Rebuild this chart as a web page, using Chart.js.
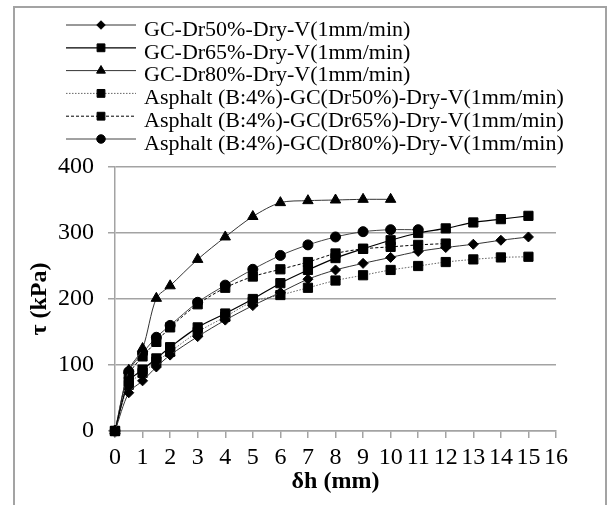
<!DOCTYPE html>
<html>
<head>
<meta charset="utf-8">
<script src="https://cdn.jsdelivr.net/npm/chart.js@4.4.0/dist/chart.umd.min.js"></script>
<style>
  html, body { margin: 0; padding: 0; background: #fff; overflow: hidden; }
  #frame { position: absolute; left: 13px; top: 6px; width: 590px; height: 520px; border: 2px solid #a3a3a3; }
  #wrap { position: absolute; left: 0; top: 0; width: 608px; height: 505px; }
</style>
</head>
<body>
<div id="frame"></div>
<div id="wrap"><canvas id="shearChart"></canvas></div>
<script>
// displacement steps (mm)
const dh = [0, 0.5, 1, 1.5, 2, 3, 4, 5, 6, 7, 8, 9, 10, 11, 12, 13, 14, 15];

const seriesNames = [
  'GC-Dr50%-Dry-V(1mm/min)',
  'GC-Dr65%-Dry-V(1mm/min)',
  'GC-Dr80%-Dry-V(1mm/min)',
  'Asphalt (B:4%)-GC(Dr50%)-Dry-V(1mm/min)',
  'Asphalt (B:4%)-GC(Dr65%)-Dry-V(1mm/min)',
  'Asphalt (B:4%)-GC(Dr80%)-Dry-V(1mm/min)'
];

// shear stress tau (kPa)
const gc50 = [0, 58, 76, 97, 115, 143, 168, 190, 210, 230, 244, 254, 263, 272, 278, 283, 289, 294];
const gc65 = [0, 75, 93, 110, 127, 157, 178, 200, 224, 244, 262, 276, 289, 300, 307, 316, 321, 326];
const gc80 = [0, 92, 125, 201, 220, 260, 294, 325, 346, 349, 350, 351, 351];
const asp50 = [0, 70, 88, 105, 120, 150, 173, 196, 206, 217, 228, 236, 244, 250, 256, 260, 263, 264];
const asp65 = [0, 85, 113, 135, 157, 192, 217, 234, 245, 256, 269, 276, 279, 282, 284];
const asp80 = [0, 90, 118, 142, 160, 195, 221, 245, 266, 282, 294, 302, 305, 305];

const yTicks = [0, 100, 200, 300, 400];
const xTicks = [0, 1, 2, 3, 4, 5, 6, 7, 8, 9, 10, 11, 12, 13, 14, 15, 16];

function toPoints(values){
    return values.map((v, i) => ({x: dh[i], y: v}));
}

function makeSet(i, values, style){
    return Object.assign({
        label: seriesNames[i],
        data: toPoints(values),
        borderColor: '#000',
        backgroundColor: '#000',
        pointBackgroundColor: '#000',
        pointBorderColor: '#000',
        pointBorderWidth: 1,
        borderWidth: 1,
        tension: 0.3,
        clip: false,
        fill: false
    }, style);
}

const datasets = [
    makeSet(0, gc50, {borderColor: '#333', pointStyle: 'rectRot', pointRadius: 5}),
    makeSet(1, gc65, {borderColor: '#000', borderWidth: 1.2, pointStyle: 'rect', pointRadius: 6.5}),
    makeSet(2, gc80, {borderColor: '#333', pointStyle: 'triangle', pointRadius: 6}),
    makeSet(3, asp50, {borderColor: '#666', borderDash: [1.5, 1.5], pointStyle: 'rect', pointRadius: 6.5}),
    makeSet(4, asp65, {borderColor: '#000', borderDash: [3, 2], pointStyle: 'rect', pointRadius: 6.5}),
    makeSet(5, asp80, {borderColor: '#444', pointStyle: 'circle', pointRadius: 5})
];

// legend drawn at top-left, line + marker + label per row
const sideLegend = {
    id: 'sideLegend',
    afterDraw(chart){
        const ctx = chart.ctx;
        chart.data.datasets.forEach((ds, i) => {
            const y = 25 + i * 22.8;
            ctx.save();
            ctx.strokeStyle = ds.borderColor;
            ctx.lineWidth = ds.borderWidth;
            ctx.setLineDash(ds.borderDash || []);
            ctx.beginPath();
            ctx.moveTo(66, y);
            ctx.lineTo(136, y);
            ctx.stroke();
            ctx.setLineDash([]);
            ctx.fillStyle = '#000';
            ctx.strokeStyle = '#000';
            ctx.lineWidth = 1;
            Chart.helpers.drawPoint(ctx, {pointStyle: ds.pointStyle, rotation: 0, radius: ds.pointRadius * 0.85, borderWidth: 1}, 101, y);
            ctx.font = '22px "Liberation Serif"';
            ctx.textBaseline = 'alphabetic';
            ctx.textAlign = 'left';
            ctx.fillText(ds.label, 144, y + 10.7);
            ctx.restore();
        });
    }
};

const ctx = document.getElementById('shearChart').getContext('2d');
new Chart(ctx, {
    type: 'line',
    data: {datasets: datasets},
    options: {
        responsive: true,
        maintainAspectRatio: false,
        animation: false,
        layout: {padding: {top: 167, right: 52, left: 0, bottom: 0}},
        plugins: {legend: {display: false}, tooltip: {enabled: false}},
        scales: {
            x: {
                type: 'linear',
                min: 0,
                max: 16,
                afterBuildTicks: (scale) => { scale.ticks = xTicks.map(v => ({value: v})); },
                afterFit: (scale) => { scale.height = 74; },
                grid: {drawOnChartArea: false, drawTicks: true, tickLength: 7, color: '#a3a3a3', lineWidth: 1.5},
                border: {color: '#a3a3a3', width: 1.5},
                ticks: {color: '#000', padding: 5, maxRotation: 0, autoSkip: false, font: {family: 'Liberation Serif', size: 24}},
                title: {display: true, text: 'δh (mm)', color: '#000', padding: {top: 0, bottom: 9}, font: {family: 'Liberation Serif', size: 24, weight: 'bold'}}
            },
            y: {
                min: 0,
                max: 400,
                afterBuildTicks: (scale) => { scale.ticks = yTicks.map(v => ({value: v})); },
                afterFit: (scale) => { scale.width = 115; },
                grid: {color: '#a3a3a3', lineWidth: 1.5, tickLength: 7},
                border: {color: '#a3a3a3', width: 1.5},
                ticks: {color: '#000', padding: 14, font: {family: 'Liberation Serif', size: 24}},
                title: {display: true, text: 'τ (kPa)', color: '#000', padding: {top: 25, bottom: 0}, font: {family: 'Liberation Serif', size: 24, weight: 'bold'}}
            }
        }
    },
    plugins: [sideLegend]
});
</script>
</body>
</html>
